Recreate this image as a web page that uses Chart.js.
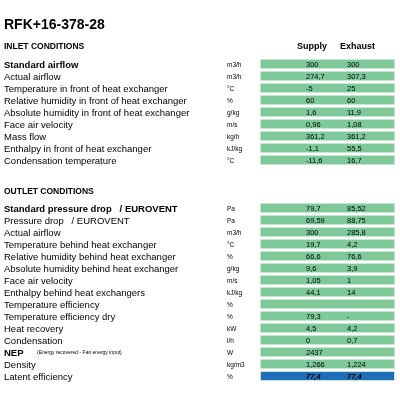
<!DOCTYPE html>
<html>
<head>
<meta charset="utf-8">
<script src="https://cdn.jsdelivr.net/npm/chart.js@4"></script>
<style>
  html, body { margin: 0; padding: 0; background: #fff; }
  #wrap { width: 400px; height: 400px; }
</style>
</head>
<body>
<div id="wrap"><canvas id="tabela"></canvas></div>
<script>
// ---------- dados ----------
const titulo = "RFK+16-378-28";
const colunas = ["Supply", "Exhaust"];

const linhas = [
  "Standard airflow", "Actual airflow", "Temperature in front of heat exchanger",
  "Relative humidity in front of heat exchanger", "Absolute humidity in front of heat exchanger",
  "Face air velocity", "Mass flow", "Enthalpy in front of heat exchanger", "Condensation temperature",
  "", "", "",
  "Standard pressure drop   / EUROVENT", "Pressure drop   / EUROVENT", "Actual airflow",
  "Temperature behind heat exchanger", "Relative humidity behind heat exchanger",
  "Absolute humidity behind heat exchanger", "Face air velocity", "Enthalpy behind heat exchangers",
  "Temperature efficiency", "Temperature efficiency dry", "Heat recovery", "Condensation",
  "NEP", "Density", "Latent efficiency"
];
const unidades = [
  "m3/h", "m3/h", "°C", "%", "g/kg", "m/s", "kg/h", "kJ/kg", "°C",
  "", "", "",
  "Pa", "Pa", "m3/h", "°C", "%", "g/kg", "m/s", "kJ/kg", "%", "%", "kW", "l/h", "W", "kg/m3", "%"
];
const supply = [
  "300", "274,7", "-5", "60", "1,6", "0,96", "361,2", "-1,1", "-11,6",
  null, null, null,
  "79,7", "69,59", "300", "19,7", "66,6", "9,6", "1,05", "44,1", "", "79,3", "4,5", "0", "2437", "1,266", "77,4"
];
const exhaust = [
  "300", "307,3", "25", "60", "11,9", "1,08", "361,2", "55,5", "16,7",
  null, null, null,
  "85,52", "88,75", "285,8", "4,2", "76,6", "3,9", "1", "14", "", "-", "4,2", "0,7", "", "1,224", "77,4"
];
const negrito = ["Standard airflow", "Standard pressure drop   / EUROVENT", "NEP"];
const destaque = ["Latent efficiency"];

// ---------- helpers ----------
const FONTE = "'Liberation Sans', Arial, sans-serif";
const celulas = linhas.map((l, i) => supply[i] === null ? null : [260, 395]);
const cores = linhas.map(l => destaque.includes(l) ? "#1f6fb8" : "#7dc99a");

const textoPlugin = {
  id: "textos",
  afterDatasetsDraw(chart) {
    const ctx = chart.ctx;
    const y = chart.scales.y;
    ctx.save();
    ctx.fillStyle = "#000";
    ctx.textBaseline = "middle";

    ctx.font = "bold 14px " + FONTE;
    ctx.fillText(titulo, 4, 25);
    ctx.font = "bold 8.5px " + FONTE;
    ctx.fillText("INLET CONDITIONS", 4, 47);
    ctx.fillText("OUTLET CONDITIONS", 4, 192);
    ctx.font = "bold 9px " + FONTE;
    ctx.fillText(colunas[0], 297, 47);
    ctx.fillText(colunas[1], 340, 47);

    linhas.forEach((l, i) => {
      if (!l) return;
      const py = y.getPixelForValue(i) + 1;
      ctx.fillStyle = "#000";
      ctx.font = (negrito.includes(l) ? "bold " : "") + "9.5px " + FONTE;
      ctx.fillText(l, 4, py);
      if (l === "NEP") {
        ctx.font = "5px " + FONTE;
        ctx.fillText("(Energy recovered - Fan energy input)", 37, py);
      }
      ctx.font = "6.5px " + FONTE;
      ctx.fillText(unidades[i], 227, py);
      const it = destaque.includes(l);
      ctx.font = (it ? "italic bold " : "") + "7.5px " + FONTE;
      ctx.fillText(supply[i] || "", 306, py);
      ctx.fillText(exhaust[i] || "", 347, py);
    });
    ctx.restore();
  }
};

new Chart(document.getElementById("tabela"), {
  type: "bar",
  data: {
    labels: linhas.map((l, i) => String(i)),
    datasets: [{
      data: celulas,
      backgroundColor: cores,
      borderColor: "#c9e6d3",
      borderWidth: 1,
      borderSkipped: false,
      barPercentage: 1,
      categoryPercentage: 0.85
    }]
  },
  options: {
    indexAxis: "y",
    responsive: true,
    maintainAspectRatio: false,
    animation: false,
    layout: { padding: { top: 58, bottom: 18, left: 0, right: 0 } },
    plugins: { legend: { display: false }, tooltip: { enabled: false } },
    scales: {
      x: { type: "linear", min: 0, max: 400, display: false },
      y: { display: false }
    }
  },
  plugins: [textoPlugin]
});
</script>
</body>
</html>
